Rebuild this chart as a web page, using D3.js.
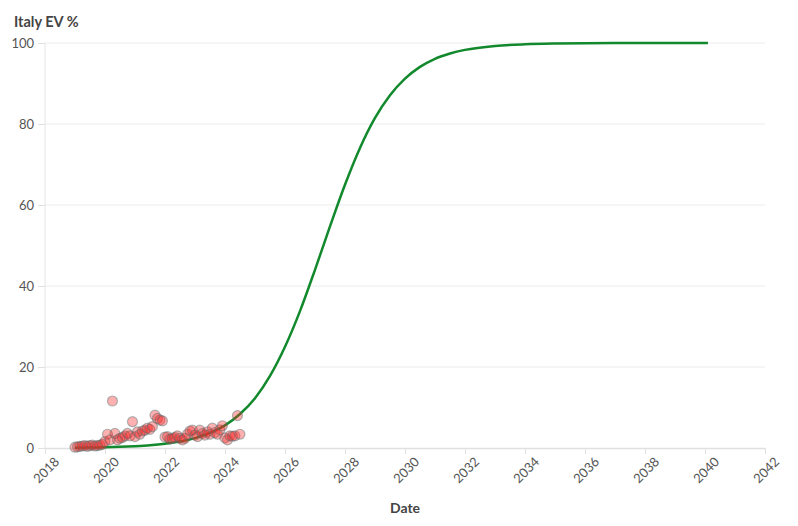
<!DOCTYPE html>
<html>
<head>
<meta charset="utf-8">
<script src="https://cdn.jsdelivr.net/npm/d3@7"></script>
<style>
  html, body { margin: 0; padding: 0; background: #fff; }
  svg { display: block; font-family: Lato, "Open Sans", sans-serif; }
</style>
</head>
<body>
<svg id="chart" width="798" height="526"></svg>
<script>
// ---- data ----
const chartTitle = "Italy EV %";
const xAxisTitle = "Date";

// monthly observed EV share (%), starting January 2019
const obsStartMonth = "2019-01";
const obsValues = [
  0.2, 0.3, 0.4, 0.5, 0.6, 0.4, 0.6, 0.7, 0.5, 0.6, 0.7, 0.9,   // 2019
  1.6, 3.4, 2.0, 11.6, 3.6, 2.0, 2.4, 2.6, 3.0, 3.6, 3.0, 6.5,  // 2020
  2.8, 4.0, 3.4, 4.2, 4.4, 4.9, 4.6, 5.3, 8.1, 7.3, 6.9, 6.7,   // 2021
  2.7, 2.8, 2.2, 2.4, 2.6, 3.0, 2.4, 2.0, 2.4, 3.4, 4.2, 4.4,   // 2022
  3.2, 2.8, 4.4, 3.6, 3.2, 4.0, 3.4, 4.9, 3.8, 3.4, 4.5, 5.5,   // 2023
  2.5, 2.0, 3.0, 2.9, 3.0, 8.0, 3.4                             // 2024
];

// fitted S-curve (%)
const curveYears = [2019.0, 2019.5, 2020.0, 2020.5, 2021.0, 2021.5, 2022.0, 2022.5,
  2023.0, 2023.5, 2024.0, 2024.5, 2025.0, 2025.5, 2026.0, 2026.5, 2027.0, 2027.5,
  2028.0, 2028.5, 2029.0, 2029.5, 2030.0, 2030.5, 2031.0, 2031.5, 2032.0, 2033.0,
  2034.0, 2035.0, 2036.0, 2037.0, 2038.0, 2039.0, 2040.1];
const curveValues = [0.08, 0.12, 0.19, 0.29, 0.45, 0.68, 1.05, 1.6,
  2.44, 3.73, 5.6, 8.4, 12.3, 17.8, 25.0, 33.8, 44.0, 54.7,
  65.0, 74.1, 81.5, 87.1, 91.2, 94.1, 96.1, 97.4, 98.3, 99.28,
  99.69, 99.87, 99.95, 99.98, 99.99, 100.0, 100.0];

const xTickYears = [2018, 2020, 2022, 2024, 2026, 2028, 2030, 2032, 2034, 2036, 2038, 2040, 2042];
const yTicks = [0, 20, 40, 60, 80, 100];

// ---- helpers ----
const parseMonth = d3.timeParse("%Y-%m");
const start = parseMonth(obsStartMonth);
const obs = obsValues.map((v, i) => ({ date: d3.timeMonth.offset(start, i), value: v }));
function yearToDate(y) {
  const yr = Math.floor(y);
  const s = new Date(yr, 0, 1), e = new Date(yr + 1, 0, 1);
  return new Date(s.getTime() + (y - yr) * (e - s));
}
const curve = curveYears.map((y, i) => ({ date: yearToDate(y), value: curveValues[i] }));

// ---- layout ----
const svg = d3.select("#chart");
const margin = { left: 45, right: 33, top: 43, bottom: 78 };
const W = 798, H = 526;

const x = d3.scaleTime()
  .domain([new Date(2018, 0, 1), new Date(2042, 0, 1)])
  .range([margin.left, W - margin.right]);
const y = d3.scaleLinear().domain([0, 100]).range([H - margin.bottom, margin.top]);

// gridlines
svg.append("g")
  .selectAll("line")
  .data(yTicks.filter(d => d > 0))
  .join("line")
  .attr("x1", margin.left).attr("x2", W - margin.right)
  .attr("y1", d => y(d)).attr("y2", d => y(d))
  .attr("stroke", "#ececec").attr("stroke-width", 1);

// y axis line
svg.append("line")
  .attr("x1", margin.left).attr("x2", margin.left)
  .attr("y1", y(100)).attr("y2", y(0))
  .attr("stroke", "#e6e6e6");

// y axis
const yAxis = svg.append("g")
  .attr("transform", `translate(${margin.left},0)`)
  .call(d3.axisLeft(y).tickValues(yTicks).tickSize(7).tickPadding(4));
yAxis.select(".domain").remove();
yAxis.selectAll(".tick line").attr("stroke", "#e0e0e0");
yAxis.selectAll(".tick text")
  .attr("fill", "#555").attr("font-size", 13).attr("font-family", "Lato, sans-serif");

// x axis
const xAxis = svg.append("g")
  .attr("transform", `translate(0,${y(0)})`)
  .call(d3.axisBottom(x).tickValues(xTickYears.map(yy => new Date(yy, 0, 1)))
    .tickFormat(d3.timeFormat("%Y")).tickSize(6).tickSizeOuter(0));
xAxis.select(".domain").attr("stroke", "#e0e0e0").attr("stroke-width", 1.5);
xAxis.selectAll(".tick line").attr("stroke", "#e0e0e0");
xAxis.selectAll(".tick text")
  .attr("fill", "#555").attr("font-size", 13).attr("font-family", "Lato, sans-serif")
  .attr("text-anchor", "end")
  .attr("transform", "translate(6,6) rotate(-45)")
  .attr("dy", "0.71em").attr("y", 3);

// line
svg.append("path")
  .datum(curve)
  .attr("fill", "none")
  .attr("stroke", "#12892c")
  .attr("stroke-width", 2.5)
  .attr("d", d3.line().x(d => x(d.date)).y(d => y(d.value)).curve(d3.curveMonotoneX));

// scatter
svg.append("g")
  .selectAll("circle")
  .data(obs)
  .join("circle")
  .attr("cx", d => x(d.date))
  .attr("cy", d => y(d.value))
  .attr("r", 5)
  .attr("fill", "#ff2020").attr("fill-opacity", 0.35)
  .attr("stroke", "#4f7070").attr("stroke-opacity", 0.45).attr("stroke-width", 1.2);

// titles
svg.append("text")
  .attr("x", 14).attr("y", 27)
  .attr("font-size", 14.5).attr("font-weight", "bold").attr("fill", "#444")
  .text(chartTitle);

svg.append("text")
  .attr("x", (margin.left + W - margin.right) / 2).attr("y", 513)
  .attr("text-anchor", "middle")
  .attr("font-size", 14).attr("font-weight", "bold").attr("fill", "#444")
  .text(xAxisTitle);
</script>
</body>
</html>
